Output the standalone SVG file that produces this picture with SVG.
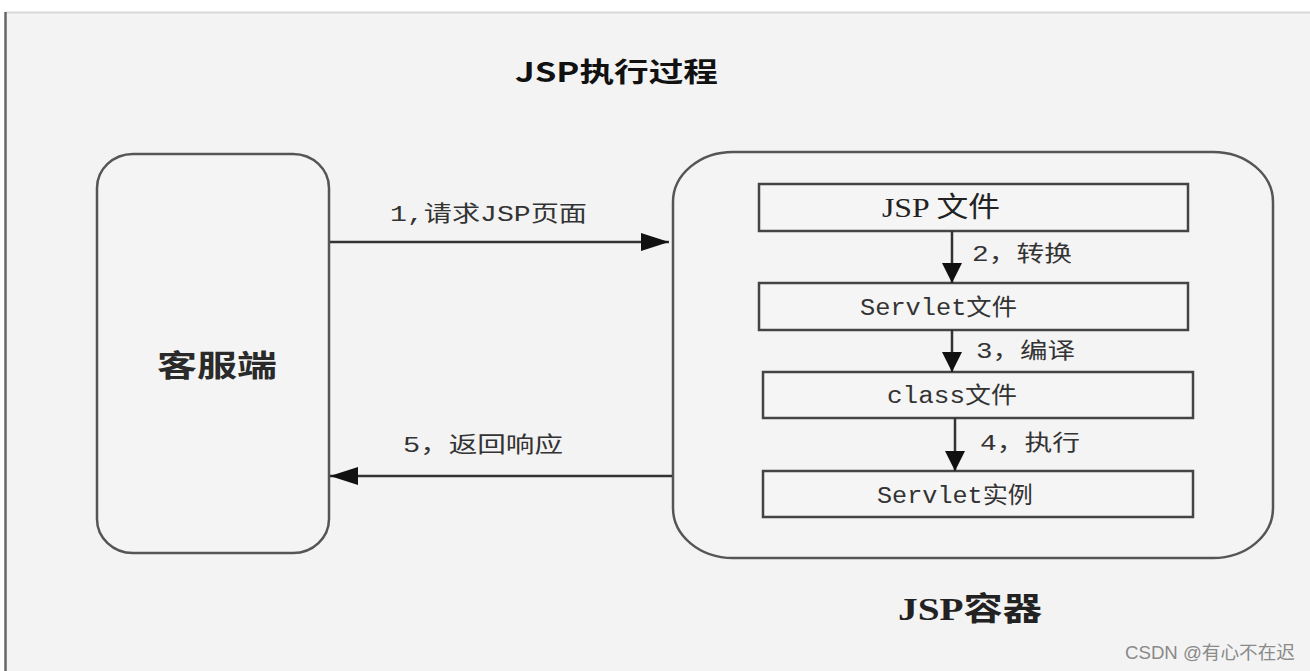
<svg xmlns="http://www.w3.org/2000/svg" width="1310" height="671" viewBox="0 0 1310 671">
<style>
.box{fill:#f5f5f5;stroke:#444;stroke-width:2.5}
.rbox{fill:#f4f4f4;stroke:#555;stroke-width:2.5}
.line{stroke:#333;stroke-width:2.5;fill:none}
.lbl{font-family:"Liberation Mono","Noto Sans CJK SC",monospace;font-size:22px;fill:#333}
.mono{font-family:"Liberation Mono","Noto Sans CJK SC",monospace;font-size:23px;fill:#333}
.serif{font-family:"Liberation Serif","Noto Sans CJK SC",serif;fill:#222}
</style>
<defs>
<marker id="ahH" viewBox="0 0 28 18" refX="28" refY="9" markerWidth="28" markerHeight="18" markerUnits="userSpaceOnUse" orient="auto">
<path d="M0,0 L28,9 L0,18 z" fill="#111"/>
</marker>
<marker id="ahV" viewBox="0 0 20 20" refX="20" refY="10" markerWidth="20" markerHeight="20" markerUnits="userSpaceOnUse" orient="auto">
<path d="M0,0 L20,10 L0,20 z" fill="#111"/>
</marker>
</defs>
<rect x="0" y="0" width="1310" height="671" fill="#ffffff"/>
<rect x="5" y="12" width="1305" height="659" fill="#f3f3f3"/>
<line x1="5" y1="12.5" x2="1310" y2="12.5" stroke="#d8d8d8" stroke-width="2"/>
<line x1="5.5" y1="12" x2="5.5" y2="671" stroke="#666" stroke-width="2.5"/>

<text id="title" x="515" y="82" textLength="203" lengthAdjust="spacingAndGlyphs" font-family="'Noto Sans CJK SC',sans-serif" font-weight="bold" font-size="27" fill="#111">JSP执行过程</text>

<g id="client">
<rect class="rbox" x="97" y="154" width="232" height="399" rx="36" ry="34"/>
<text x="157" y="376" textLength="120" lengthAdjust="spacingAndGlyphs" font-family="'Noto Sans CJK SC',sans-serif" font-weight="bold" font-size="30" fill="#2a2a2a">客服端</text>
</g>

<g id="container">
<rect class="rbox" x="673" y="152" width="600" height="406" rx="60" ry="50"/>
<text class="serif" x="898" y="620" textLength="144" lengthAdjust="spacingAndGlyphs" font-weight="bold" font-size="32">JSP容器</text>
</g>

<g id="jspfile">
<rect class="box" x="759" y="184" width="429" height="47"/>
<text class="serif" x="882" y="217" textLength="118" lengthAdjust="spacingAndGlyphs" font-size="28">JSP 文件</text>
</g>
<g id="servletfile">
<rect class="box" x="759" y="283" width="429" height="47"/>
<text class="mono" x="860" y="315" textLength="157" lengthAdjust="spacingAndGlyphs">Servlet文件</text>
</g>
<g id="classfile">
<rect class="box" x="763" y="372" width="430" height="46"/>
<text class="mono" x="887" y="403" textLength="130" lengthAdjust="spacingAndGlyphs">class文件</text>
</g>
<g id="servletinst">
<rect class="box" x="763" y="471" width="430" height="46"/>
<text class="mono" x="877" y="503" textLength="156" lengthAdjust="spacingAndGlyphs">Servlet实例</text>
</g>

<g id="connectors">
<line class="line" x1="330" y1="242" x2="669" y2="242" marker-end="url(#ahH)"/>
<line class="line" x1="672" y1="476" x2="330" y2="476" marker-end="url(#ahH)"/>
<line class="line" x1="952" y1="231" x2="952" y2="283" marker-end="url(#ahV)"/>
<line class="line" x1="952" y1="330" x2="952" y2="372" marker-end="url(#ahV)"/>
<line class="line" x1="955" y1="418" x2="955" y2="471" marker-end="url(#ahV)"/>
<text class="lbl" x="390" y="221" textLength="197" lengthAdjust="spacingAndGlyphs">1,请求JSP页面</text>
<text class="lbl" x="403" y="452" textLength="160" lengthAdjust="spacingAndGlyphs">5，返回响应</text>
<text class="lbl" x="972" y="261" textLength="100" lengthAdjust="spacingAndGlyphs">2，转换</text>
<text class="lbl" x="976" y="358" textLength="99" lengthAdjust="spacingAndGlyphs">3，编译</text>
<text class="lbl" x="980" y="450" textLength="100" lengthAdjust="spacingAndGlyphs">4，执行</text>
</g>

<text x="1125" y="659" textLength="170" lengthAdjust="spacingAndGlyphs" font-family="'Liberation Sans','Noto Sans CJK SC',sans-serif" font-size="18" fill="#8a8a8a">CSDN @有心不在迟</text>
</svg>
